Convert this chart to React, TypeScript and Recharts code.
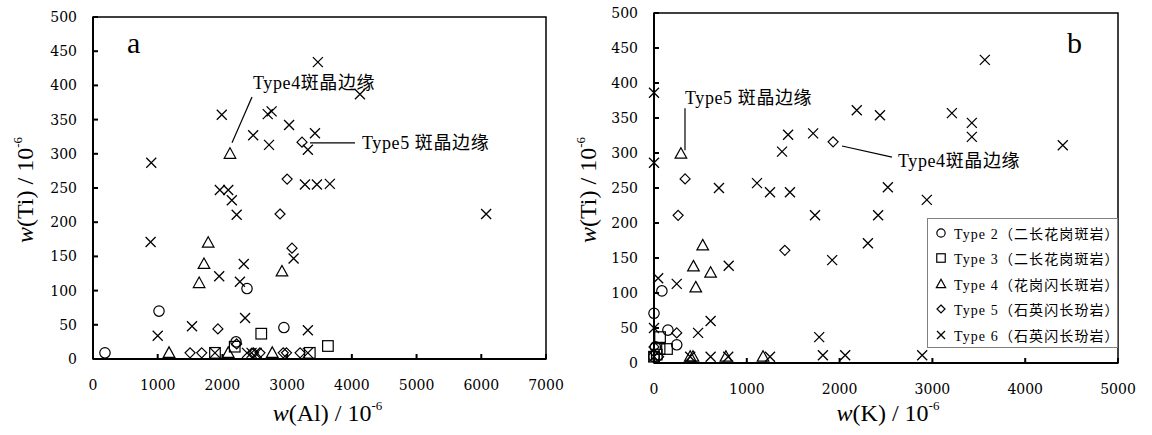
import React from 'react';
import {
  ScatterChart,
  Scatter,
  XAxis,
  YAxis,
  Legend,
  ReferenceArea,
  ReferenceLine,
  ReferenceDot,
} from 'recharts';

// w(Al) vs w(Ti), panel a
const alType2 = [[185, 9], [1020, 70], [2380, 103], [2950, 46], [2210, 25]];
const alType3 = [[2600, 37], [3630, 19], [2190, 18], [1885, 9], [3350, 9]];
const alType4 = [[2117, 300], [1780, 170], [1715, 139], [1640, 111], [2920, 128], [1175, 9], [2090, 9], [2770, 9]];
const alType5 = [[3000, 263], [2890, 212], [3230, 317], [3075, 162], [1930, 44], [2220, 22], [1500, 9], [1680, 9], [2480, 9], [2580, 9], [2940, 9], [2990, 9], [3200, 9]];
const alType6 = [
  [900, 287], [890, 171], [1000, 34], [1990, 357], [2475, 327], [2700, 358], [2760, 362], [2720, 313],
  [3030, 342], [1960, 247], [2090, 247], [2145, 232], [2220, 211], [3430, 330], [3320, 306], [3475, 434],
  [4125, 387], [3275, 255], [3460, 255], [3660, 256], [3100, 147], [2330, 139], [1950, 121], [2270, 113],
  [2350, 60], [1530, 48], [3320, 42], [6075, 212], [1885, 9], [2380, 9], [2450, 9], [2530, 9], [3320, 9],
];

// w(K) vs w(Ti), panel b
const kType2 = [[85, 103], [0, 71], [150, 47], [245, 26], [15, 23], [0, 9]];
const kType3 = [[65, 37], [140, 20], [60, 20], [0, 9], [30, 12]];
const kType4 = [[290, 299], [525, 168], [425, 138], [610, 129], [450, 108], [390, 9], [420, 9], [775, 9], [1175, 9]];
const kType5 = [[335, 263], [260, 211], [1930, 316], [1410, 161], [245, 43], [0, 23], [50, 9]];
const kType6 = [
  [0, 386], [0, 286], [700, 250], [1110, 257], [1250, 244], [1465, 244], [1380, 302], [1445, 326],
  [1715, 328], [2185, 361], [2435, 354], [3210, 357], [3425, 343], [3425, 323], [4405, 311], [3565, 433],
  [1735, 211], [2520, 251], [2940, 233], [2415, 211], [2305, 171], [1920, 147], [805, 139], [45, 121],
  [245, 113], [0, 50], [610, 60], [475, 43], [1780, 37], [1820, 11], [2060, 11], [2890, 11], [390, 9],
  [610, 9], [800, 9], [1250, 9], [0, 9],
];

const typeNames = ['Type 2', 'Type 3', 'Type 4', 'Type 5', 'Type 6'];
const rockNames = ['（二长花岗斑岩）', '（二长花岗斑岩）', '（花岗闪长斑岩）', '（石英闪长玢岩）', '（石英闪长玢岩）'];
const markers = ['circle', 'square', 'triangle', 'diamond', 'x'];

const yTicks = [0, 50, 100, 150, 200, 250, 300, 350, 400, 450, 500];
const alTicks = [0, 1000, 2000, 3000, 4000, 5000, 6000, 7000];
const kTicks = [0, 1000, 2000, 3000, 4000, 5000];

const SERIF = "'Liberation Serif', 'Noto Sans CJK SC', serif";
const TICK_FONT = "'DejaVu Serif', 'Liberation Serif', serif";

const toPts = (arr: number[][]) => arr.map(([x, y]) => ({ x, y }));

const Marker = ({ kind, cx, cy, s = 1 }: { kind: string; cx: number; cy: number; s?: number }) => {
  const st = { stroke: '#000', strokeWidth: 1.2, fill: 'none' };
  if (kind === 'circle') return <circle cx={cx} cy={cy} r={5.2 * s} {...st} />;
  if (kind === 'square') return <rect x={cx - 5.3 * s} y={cy - 5.3 * s} width={10.6 * s} height={10.6 * s} {...st} />;
  if (kind === 'triangle')
    return <path d={`M${cx},${cy - 6 * s} L${cx + 5.8 * s},${cy + 4.5 * s} L${cx - 5.8 * s},${cy + 4.5 * s} Z`} {...st} />;
  if (kind === 'diamond')
    return <path d={`M${cx},${cy - 5 * s} L${cx + 5 * s},${cy} L${cx},${cy + 5 * s} L${cx - 5 * s},${cy} Z`} {...st} />;
  return (
    <path
      d={`M${cx - 5 * s},${cy - 5 * s} L${cx + 5 * s},${cy + 5 * s} M${cx + 5 * s},${cy - 5 * s} L${cx - 5 * s},${cy + 5 * s}`}
      {...st}
      strokeWidth={1.3}
    />
  );
};

// inward tick marks + labels
const XTick = (props: any) => {
  const { x, y, payload } = props;
  return (
    <g>
      <line x1={x} x2={x} y1={y} y2={y - 5} stroke="#000" strokeWidth={2} />
      <text x={x} y={y + 31} textAnchor="middle" style={{ fontFamily: TICK_FONT, fontSize: 14 }} fill="#000">
        {payload.value}
      </text>
    </g>
  );
};

const YTick = (props: any) => {
  const { x, y, payload } = props;
  return (
    <g>
      <line x1={x} x2={x + 5} y1={y} y2={y} stroke="#000" strokeWidth={2} />
      <text x={x - 16} y={y + 5} textAnchor="end" style={{ fontFamily: TICK_FONT, fontSize: 14 }} fill="#000">
        {payload.value}
      </text>
    </g>
  );
};

const AxisTitle = ({ cx, cy, name, rotate }: { cx: number; cy: number; name: string; rotate?: boolean }) => (
  <text
    x={cx}
    y={cy}
    transform={rotate ? `rotate(-90 ${cx} ${cy})` : undefined}
    textAnchor="middle"
    style={{ fontFamily: SERIF, fontSize: 24 }}
    fill="#000"
  >
    <tspan style={{ fontStyle: 'italic' }}>w</tspan>
    <tspan>({name}) / 10</tspan>
    <tspan style={{ fontSize: 13 }} dy={-11}>-6</tspan>
  </text>
);

const annotation = (text: string, size = 18, spacing = 0) => (props: any) => {
  const { viewBox } = props;
  return (
    <text
      x={viewBox.x}
      y={viewBox.y}
      style={{ fontFamily: SERIF, fontSize: size, letterSpacing: spacing }}
      fill="#000"
    >
      {text}
    </text>
  );
};

const LegendBox = (props: any) => {
  const { payload } = props;
  return (
    <div
      style={{
        width: 189,
        height: 128,
        border: '1px solid #808080',
        background: '#fff',
        boxSizing: 'content-box',
      }}
    >
      {(payload || []).map((p: any, i: number) => (
        <div key={i} style={{ display: 'flex', alignItems: 'center', height: 25.5, marginTop: i === 0 ? 1 : 0 }}>
          <svg width={26} height={20} style={{ flex: 'none' }}>
            <Marker kind={markers[i]} cx={13} cy={10} s={0.8} />
          </svg>
          <span style={{ fontFamily: SERIF, fontSize: 14, letterSpacing: 1.1, color: '#000', whiteSpace: 'nowrap' }}>
            {p.value}
            {rockNames[i]}
          </span>
        </div>
      ))}
    </div>
  );
};

const yAxisProps = {
  type: 'number' as const,
  dataKey: 'y',
  domain: [0, 500],
  ticks: yTicks,
  width: 60,
  tickSize: 0,
  tickMargin: 0,
  tickLine: false,
  tick: YTick,
  axisLine: { stroke: '#000', strokeWidth: 2 },
};

const xAxisBase = {
  type: 'number' as const,
  dataKey: 'x',
  height: 40,
  tickSize: 0,
  tickMargin: 0,
  tickLine: false,
  tick: XTick,
  axisLine: { stroke: '#000', strokeWidth: 2 },
};

const seriesA = [alType2, alType3, alType4, alType5, alType6];
const seriesB = [kType2, kType3, kType4, kType5, kType6];

export default function App() {
  return (
    <div style={{ position: 'absolute', left: 0, top: 0, width: 1152, height: 435, background: '#fff' }}>
      <div style={{ position: 'absolute', left: 0, top: 0 }}>
        <ScatterChart width={576} height={435} margin={{ top: 17, right: 30, bottom: 36, left: 33 }}>
          <ReferenceArea x1={0} x2={7000} y1={0} y2={500} fill="none" stroke="#000" strokeWidth={1.5} />
          <XAxis
            {...xAxisBase}
            domain={[0, 7000]}
            ticks={alTicks}
            label={(p: any) => <AxisTitle cx={p.viewBox.x + p.viewBox.width / 2 + 8} cy={421} name="Al" />}
          />
          <YAxis {...yAxisProps} label={() => <AxisTitle cx={33} cy={190} name="Ti" rotate />} />
          {seriesA.map((d, i) => (
            <Scatter
              key={i}
              name={typeNames[i]}
              data={toPts(d)}
              isAnimationActive={false}
              shape={(p: any) => <Marker kind={markers[i]} cx={p.cx} cy={p.cy} />}
            />
          ))}
          <ReferenceLine segment={[{ x: 2148, y: 316 }, { x: 2457, y: 383 }]} stroke="#000" strokeWidth={1.2} />
          <ReferenceLine segment={[{ x: 3353, y: 316 }, { x: 4049, y: 316 }]} stroke="#000" strokeWidth={1.2} />
          <ReferenceDot x={2473} y={395} r={0} fill="none" stroke="none" label={annotation('Type4斑晶边缘', 18, 0.6)} />
          <ReferenceDot x={4157} y={307} r={0} fill="none" stroke="none" label={annotation('Type5 斑晶边缘', 18, 0.6)} />
          <ReferenceDot x={525} y={447} r={0} fill="none" stroke="none" label={annotation('a', 30)} />
        </ScatterChart>
      </div>
      <div style={{ position: 'absolute', left: 560, top: 0 }}>
        <ScatterChart width={592} height={435} margin={{ top: 13, right: 34, bottom: 32, left: 34 }}>
          <ReferenceArea x1={0} x2={5000} y1={0} y2={500} fill="none" stroke="#000" strokeWidth={1.5} />
          <XAxis
            {...xAxisBase}
            domain={[0, 5000]}
            ticks={kTicks}
            label={(p: any) => <AxisTitle cx={p.viewBox.x + p.viewBox.width / 2 + 2} cy={421} name="K" />}
          />
          <YAxis {...yAxisProps} label={() => <AxisTitle cx={36} cy={190} name="Ti" rotate />} />
          {seriesB.map((d, i) => (
            <Scatter
              key={i}
              name={typeNames[i]}
              data={toPts(d)}
              isAnimationActive={false}
              shape={(p: any) => <Marker kind={markers[i]} cx={p.cx} cy={p.cy} />}
            />
          ))}
          <ReferenceLine segment={[{ x: 334, y: 304 }, { x: 334, y: 364 }]} stroke="#000" strokeWidth={1.2} />
          <ReferenceLine segment={[{ x: 2026, y: 310 }, { x: 2565, y: 294 }]} stroke="#000" strokeWidth={1.2} />
          <ReferenceDot x={334} y={370} r={0} fill="none" stroke="none" label={annotation('Type5 斑晶边缘', 18, 0.6)} />
          <ReferenceDot x={2629} y={280} r={0} fill="none" stroke="none" label={annotation('Type4斑晶边缘', 18, 0.6)} />
          <ReferenceDot x={4450} y={443} r={0} fill="none" stroke="none" label={annotation('b', 30)} />
          <Legend
            layout="vertical"
            align="center"
            verticalAlign="middle"
            width={191}
            height={130}
            wrapperStyle={{ left: 367, top: 218, width: 191, height: 130 }}
            content={LegendBox}
          />
        </ScatterChart>
      </div>
    </div>
  );
}
